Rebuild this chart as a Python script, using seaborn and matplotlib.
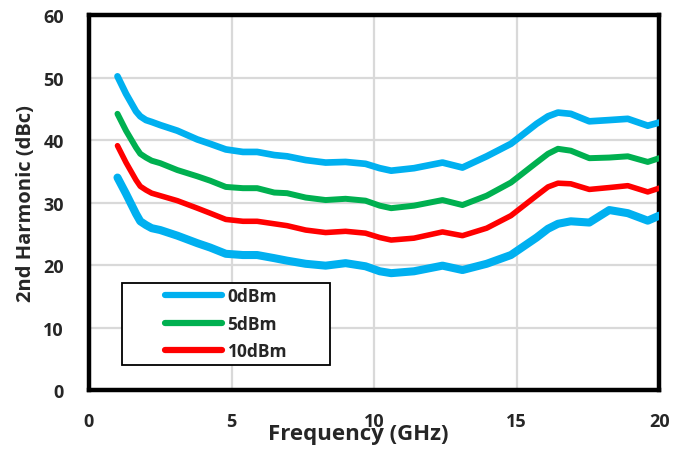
import pandas as pd
import matplotlib.pyplot as plt
import matplotlib.patches as mpatches
import seaborn as sns

# Dữ liệu
freq = [1.0, 1.3, 1.65, 1.8, 2.0, 2.2, 2.5, 3.1, 3.8, 4.25, 4.8, 5.4,
        5.9, 6.5, 6.95, 7.6, 8.3, 9.0, 9.7, 10.2, 10.6, 11.4,
        12.4, 13.1, 13.95, 14.8, 15.7, 16.1, 16.45, 16.9, 17.55, 18.25, 18.9,
        19.6, 20.0]
h2_0dbm = [50.2, 47.4, 44.6, 43.8, 43.2, 42.9, 42.4, 41.5, 40.1, 39.4, 38.5, 38.1,
           38.1, 37.6, 37.4, 36.8, 36.4, 36.5, 36.2, 35.5, 35.1, 35.5,
           36.4, 35.6, 37.4, 39.4, 42.6, 43.8, 44.4, 44.2, 43.0, 43.2, 43.4,
           42.3, 42.8]
h2_5dbm = [44.2, 41.5, 38.8, 37.8, 37.2, 36.7, 36.3, 35.2, 34.2, 33.5, 32.5, 32.3,
           32.3, 31.6, 31.5, 30.8, 30.4, 30.6, 30.3, 29.5, 29.1, 29.5,
           30.4, 29.6, 31.1, 33.2, 36.4, 37.8, 38.6, 38.3, 37.1, 37.2, 37.4,
           36.5, 37.1]
h2_10dbm = [39.1, 36.4, 33.6, 32.6, 32.0, 31.5, 31.1, 30.3, 29.1, 28.3, 27.3, 27.0,
            27.0, 26.6, 26.3, 25.6, 25.2, 25.4, 25.1, 24.4, 24.0, 24.3,
            25.3, 24.7, 25.9, 27.9, 31.1, 32.5, 33.1, 33.0, 32.1, 32.4, 32.7,
            31.7, 32.3]
# đường xanh dưới cùng (không có trong chú thích)
h2_bottom = [34.0, 31.4, 28.2, 27.0, 26.4, 25.9, 25.6, 24.7, 23.5, 22.8, 21.8, 21.6,
             21.6, 21.1, 20.7, 20.2, 19.9, 20.3, 19.8, 19.0, 18.7, 19.0,
             19.9, 19.2, 20.2, 21.6, 24.4, 25.8, 26.6, 27.0, 26.8, 28.8, 28.3,
             27.1, 27.9]

labels = ['0dBm', '5dBm', '10dBm']
colors = ['#00B0F0', '#00B050', '#FF0000']

sns.set_style("white")
plt.rcParams['font.family'] = ['Open Sans', 'DejaVu Sans']
plt.rcParams['font.weight'] = 'bold'

fig = plt.figure(figsize=(6.74, 4.6), dpi=100)
ax = fig.add_axes([0.132, 0.15, 0.846, 0.815])

ax.grid(True, color='#D9D9D9', linewidth=1.6, zorder=0)

series = [h2_0dbm, h2_5dbm, h2_10dbm]
widths = [4.8, 4.3, 4.0]
for vals, lab, col, lw in zip(series, labels, colors, widths):
    df = pd.DataFrame({'freq': freq, 'val': vals})
    sns.lineplot(data=df, x='freq', y='val', color=col, linewidth=lw,
                 ax=ax, label=lab, solid_capstyle='round',
                 solid_joinstyle='round', zorder=3)

df_b = pd.DataFrame({'freq': freq, 'val': h2_bottom})
sns.lineplot(data=df_b, x='freq', y='val', color=colors[0], linewidth=5.8,
             ax=ax, legend=False, solid_capstyle='round',
             solid_joinstyle='round', zorder=3)

ax.set_xlim(0, 20)
ax.set_ylim(0, 60)
ax.set_xticks([0, 5, 10, 15, 20])
ax.set_yticks(range(0, 61, 10))

for s in ax.spines.values():
    s.set_color('black')
    s.set_linewidth(3.2)

ax.tick_params(axis='x', direction='in', length=5, width=1.5, pad=16,
               labelsize=13)
ax.tick_params(axis='y', length=0, pad=18, labelsize=13)
for t in ax.get_xticklabels() + ax.get_yticklabels():
    t.set_fontweight('bold')

ax.set_xlabel('Frequency (GHz)', fontsize=16, fontweight='bold', labelpad=-5,
              x=0.472)
ax.set_ylabel('2nd Harmonic (dBc)', fontsize=14.5, fontweight='bold', labelpad=5)

# khung chú thích
frame = mpatches.Rectangle((0.058, 0.067), 0.365, 0.219, transform=ax.transAxes,
                           facecolor='white', edgecolor='black', linewidth=1.3,
                           zorder=4)
ax.add_patch(frame)
leg = ax.legend(loc='center', bbox_to_anchor=(0.2405, 0.1765),
                frameon=False, fontsize=12.5, handlelength=3.3,
                handletextpad=0.3, labelspacing=0.55, borderaxespad=0)
leg.set_zorder(5)
for line in leg.get_lines():
    line.set_linewidth(4.5)
    line.set_solid_capstyle('round')
for t in leg.get_texts():
    t.set_fontweight('bold')

plt.savefig('out.png', dpi=100)
plt.close()
